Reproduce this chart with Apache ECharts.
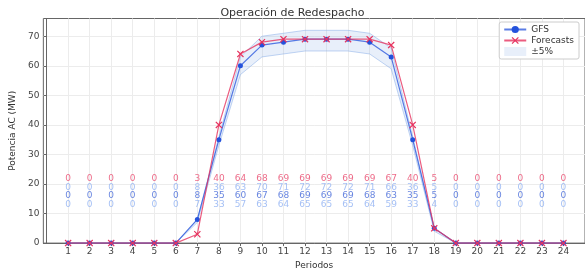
<!DOCTYPE html>
<html><head><meta charset="utf-8">
<script src="https://cdn.jsdelivr.net/npm/echarts@6/dist/echarts.min.js"></script>
<style>html,body{margin:0;padding:0;background:#fff}#c{width:585px;height:275px}</style>
</head><body><div id="c"></div>
<script>
const periods = [1,2,3,4,5,6,7,8,9,10,11,12,13,14,15,16,17,18,19,20,21,22,23,24];
const gfs       = [0,0,0,0,0,0,8,35,60,67,68,69,69,69,68,63,35,5,0,0,0,0,0,0];
const forecasts = [0,0,0,0,0,0,3,40,64,68,69,69,69,69,69,67,40,5,0,0,0,0,0,0];
const upper     = [0,0,0,0,0,0,8,36,63,70,71,72,72,72,71,66,36,5,0,0,0,0,0,0];
const lower     = [0,0,0,0,0,0,7,33,57,63,64,65,65,65,64,59,33,4,0,0,0,0,0,0];
const yTicks = [0,10,20,30,40,50,60,70];

const RED = '#e6335f', BLUE = '#2452dc', BAND = '#7fa6e6';
const BANDFILL = 'rgba(127,166,230,0.18)';
const font = 'DejaVu Sans';
const xMark = 'path://M0,1.2L1.2,0L5,3.8L8.8,0L10,1.2L6.2,5L10,8.8L8.8,10L5,6.2L1.2,10L0,8.8L3.8,5Z';

function labelSeries(vals, yPos, color) {
  return {
    type: 'scatter', symbolSize: 0, silent: true, z: 5,
    data: periods.map((p, i) => [p, yPos, vals[i]]),
    label: { show: true, position: 'inside', formatter: p => String(p.value[2]),
             color: color, fontSize: 9, fontFamily: font }
  };
}

const chart = echarts.init(document.getElementById('c'), null, {renderer: 'canvas'});
chart.setOption({
  animation: false,
  title: { text: 'Operación de Redespacho', left: 'center', top: 3,
           textStyle: { fontSize: 11, fontWeight: 'normal', color: '#333', fontFamily: font } },
  grid: { left: 33, right: -3, top: 18.5, bottom: 27.5, show: true, borderColor: '#666', borderWidth: 1 },
  legend: {
    right: 6, top: 22, orient: 'vertical', itemGap: 2, itemWidth: 22, itemHeight: 9,
    backgroundColor: '#fff', borderColor: '#ccc', borderWidth: 1, borderRadius: 2, padding: [3,5,3,4],
    textStyle: { fontSize: 9, color: '#333', fontFamily: font },
    data: [
      { name: 'GFS' },
      { name: 'Forecasts' },
      { name: '±5%', icon: 'rect', itemStyle: { color: BANDFILL } }
    ]
  },
  xAxis: {
    type: 'value', min: -0.15, max: 25, interval: 1,
    name: 'Periodos', nameLocation: 'middle', nameGap: 15,
    nameTextStyle: { fontSize: 9, color: '#333', fontFamily: font },
    axisLine: { show: true, lineStyle: { color: '#666', width: 1 } },
    axisTick: { show: true, inside: false, length: 3, lineStyle: { color: '#666' },
                customValues: periods },
    axisLabel: { fontSize: 9, color: '#444', fontFamily: font, margin: 4,
                 customValues: periods, formatter: v => String(v) },
    splitLine: { show: true, lineStyle: { color: '#ececec', width: 1 } }
  },
  yAxis: {
    type: 'value', min: 0, max: 76, interval: 10,
    name: 'Potencia AC (MW)', nameLocation: 'middle', nameGap: 20,
    nameTextStyle: { fontSize: 9, color: '#333', fontFamily: font },
    axisLine: { show: true, lineStyle: { color: '#666', width: 1 } },
    axisTick: { show: true, length: 3, lineStyle: { color: '#666' }, customValues: yTicks },
    axisLabel: { fontSize: 9, color: '#444', fontFamily: font, margin: 4, customValues: yTicks },
    splitLine: { show: true, lineStyle: { color: '#ececec', width: 1 } }
  },
  series: [
    { name: '±5%', type: 'custom', silent: true, z: 1,
      itemStyle: { color: BANDFILL },
      data: periods.map((p, i) => [p, lower[i], upper[i]]),
      renderItem: function (params, api) {
        if (params.dataIndex !== 0) return null;
        const up = periods.map((p, i) => api.coord([p, upper[i]]));
        const lo = periods.map((p, i) => api.coord([p, lower[i]]));
        const poly = up.concat(lo.slice().reverse());
        return {
          type: 'group',
          children: [
            { type: 'polygon', shape: { points: poly }, style: { fill: BANDFILL, stroke: null } },
            { type: 'polyline', shape: { points: up }, style: { fill: null, stroke: BAND, lineWidth: 0.8, opacity: 0.6 } },
            { type: 'polyline', shape: { points: lo }, style: { fill: null, stroke: BAND, lineWidth: 0.8, opacity: 0.6 } }
          ]
        };
      } },
    { name: 'GFS', type: 'line', symbol: 'circle', symbolSize: 5, z: 3,
      data: periods.map((p, i) => [p, gfs[i]]),
      lineStyle: { color: BLUE, width: 1.2, opacity: 0.75 }, itemStyle: { color: BLUE } },
    { name: 'Forecasts', type: 'line', symbol: xMark, symbolSize: 7, z: 4,
      data: periods.map((p, i) => [p, forecasts[i]]),
      lineStyle: { color: RED, width: 1.2, opacity: 0.8 }, itemStyle: { color: RED } },
    labelSeries(forecasts, 21.9, '#e8476c'),
    labelSeries(upper, 18.9, '#8fb0f2'),
    labelSeries(gfs, 15.9, '#4468d8'),
    labelSeries(lower, 12.9, '#8fb0f2')
  ]
});
</script></body></html>
